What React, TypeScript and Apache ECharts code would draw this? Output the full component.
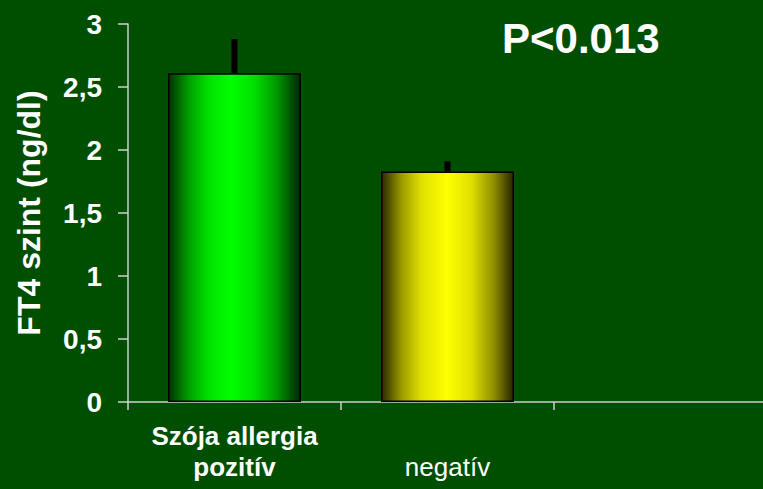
import React, { useEffect, useRef } from "react";
import * as echarts from "echarts";

const categories = ["Szója allergia\npozitív", "negatív", ""];
const values = [2.61, 1.83];
const errUpper = [2.88, 1.91];
const yTicks = [0, 0.5, 1, 1.5, 2, 2.5, 3];

export default function App() {
  const ref = useRef<HTMLDivElement>(null);
  useEffect(() => {
    const chart = echarts.init(ref.current!, null, { renderer: "svg" });
    const green = new echarts.graphic.LinearGradient(0, 0, 1, 0, [
      { offset: 0, color: "#003200" },
      { offset: 0.15, color: "#009e00" },
      { offset: 0.3, color: "#00e000" },
      { offset: 0.47, color: "#00ff00" },
      { offset: 0.65, color: "#00e000" },
      { offset: 0.82, color: "#009800" },
      { offset: 1, color: "#002800" },
    ]);
    const yellow = new echarts.graphic.LinearGradient(0, 0, 1, 0, [
      { offset: 0, color: "#2a2a00" },
      { offset: 0.15, color: "#9a9a00" },
      { offset: 0.3, color: "#e0e000" },
      { offset: 0.5, color: "#ffff00" },
      { offset: 0.68, color: "#e0e000" },
      { offset: 0.85, color: "#909000" },
      { offset: 1, color: "#262600" },
    ]);
    const fills = [green, yellow];
    chart.setOption({
      animation: false,
      backgroundColor: "#004e00",
      textStyle: { fontFamily: "Liberation Sans, Arial, sans-serif" },
      grid: { left: 128, right: 8, top: 24, bottom: 87 },
      graphic: [
        {
          type: "text",
          left: 502,
          top: 17,
          style: {
            text: "P<0.013",
            fill: "#ffffff",
            font: "bold 42px Liberation Sans, Arial, sans-serif",
          },
        },
      ],
      xAxis: {
        type: "category",
        data: categories,
        boundaryGap: true,
        axisLine: { lineStyle: { color: "#cfcfcf", width: 1.5 } },
        axisTick: { show: true, interval: 0, length: 8, lineStyle: { color: "#cfcfcf", width: 1.5 } },
        axisLabel: {
          interval: 0,
          margin: 18,
          color: "#ffffff",
          fontSize: 26,
          lineHeight: 31,
          formatter: (v: string, i: number) => {
            if (i === 0) return v.split("\n").map((s) => `{b|${s}}`).join("\n");
            if (v === "") return "";
            return `{n|}\n{n|${v}}`;
          },
          rich: {
            b: { fontSize: 26, fontWeight: "bold", color: "#ffffff", lineHeight: 31 },
            n: { fontSize: 26, fontWeight: "normal", color: "#ffffff", lineHeight: 31 },
          },
        },
      },
      yAxis: {
        type: "value",
        min: yTicks[0],
        max: yTicks[yTicks.length - 1],
        interval: 0.5,
        name: "FT4 szint (ng/dl)",
        nameLocation: "middle",
        nameGap: 83,
        nameTextStyle: { color: "#ffffff", fontSize: 32, fontWeight: "bold" },
        splitLine: { show: false },
        axisLine: { show: true, lineStyle: { color: "#cfcfcf", width: 1.5 } },
        axisTick: { show: true, length: 10, lineStyle: { color: "#cfcfcf", width: 1.5 } },
        axisLabel: {
          margin: 26,
          color: "#ffffff",
          fontSize: 28,
          fontWeight: "bold",
          formatter: (v: number) => String(v).replace(".", ","),
        },
      },
      series: [
        {
          type: "bar",
          barWidth: 133,
          data: values.map((v, i) => ({
            value: v,
            itemStyle: { color: fills[i], borderColor: "#000000", borderWidth: 1.5 },
          })),
        },
        {
          type: "custom",
          data: values.map((v, i) => [i, v, errUpper[i]]),
          renderItem: (params: any, api: any) => {
            const lo = api.coord([api.value(0), api.value(1)]);
            const hi = api.coord([api.value(0), api.value(2)]);
            return {
              type: "rect",
              shape: { x: lo[0] - 3, y: hi[1], width: 6, height: lo[1] - hi[1] },
              style: { fill: "#000000" },
            };
          },
          z: 3,
        },
      ],
    });
    return () => chart.dispose();
  }, []);
  return (
    <div
      style={{
        position: "absolute",
        left: 0,
        top: 0,
        width: 763,
        height: 489,
        overflow: "hidden",
        background: "#004e00",
      }}
    >
      <div ref={ref} style={{ width: 775, height: 489 }} />
    </div>
  );
}
